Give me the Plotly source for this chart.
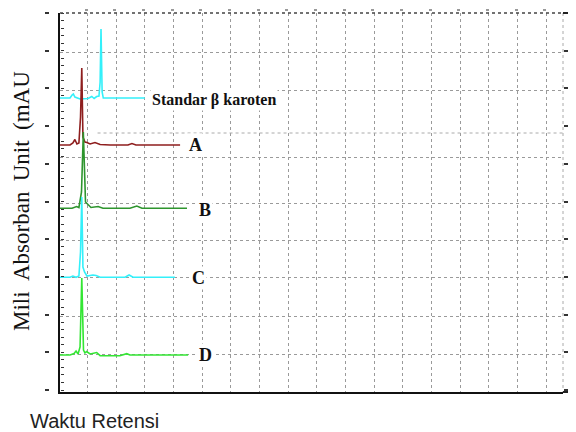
import plotly.graph_objects as go

# ---- data (retention time units, mAU offset units) ----
std_x = [0.04, 0.39, 0.46, 0.505, 0.56, 0.74, 1.02, 1.15, 1.23, 1.32, 1.40, 1.44, 1.471, 1.51, 1.55, 3.0]
std_y = [294, 294, 297, 298, 295, 293, 293.5, 295.5, 293.5, 295.5, 296, 310, 363, 300, 294, 294]

a_x = [-0.20, 0.39, 0.49, 0.56, 0.63, 0.70, 0.756, 0.80, 0.84, 0.91, 0.98, 1.09, 1.26, 1.44, 1.79, 2.41, 2.55, 2.69, 4.23]
a_y = [247, 247, 249, 252.5, 248, 249, 275, 324, 255, 250, 249.5, 248, 249.5, 247.5, 247, 247, 248.5, 247, 247]

b_x = [0.04, 0.46, 0.62, 0.70, 0.79, 0.854, 0.93, 1.02, 1.12, 1.37, 1.54, 2.48, 2.72, 2.90, 4.47]
b_y = [183.7, 183.7, 185.5, 184.5, 200, 260, 190, 187, 184.5, 185.5, 183.7, 183.7, 186, 183.7, 183.7]

c_x = [-0.13, 0.39, 0.49, 0.60, 0.70, 0.756, 0.80, 0.84, 0.895, 0.98, 1.19, 1.30, 1.44, 2.31, 2.45, 2.59, 4.05]
c_y = [114.7, 114.7, 116, 114.7, 116, 140, 195, 125, 120, 116, 117, 116.5, 114.7, 114.7, 117, 114.7, 114.7]

d_x = [-0.20, 0.39, 0.53, 0.60, 0.67, 0.74, 0.80, 0.86, 0.91, 0.965, 1.09, 1.32, 1.44, 2.13, 2.37, 2.48, 4.51]
d_y = [37, 37, 38.5, 41, 38, 45, 114, 42, 39, 40.5, 38, 39.5, 36.3, 36.3, 38.3, 37, 37]

series_names = ["Standar β karoten", "A", "B", "C", "D"]
series_colors = ["#33F0FA", "#8E1E1E", "#2E952E", "#33F0FA", "#33E633"]

label_x = [3.18, 4.47, 4.82, 4.58, 4.82]
label_y = [292, 247.5, 182, 114.5, 37]
label_sizes = [16, 18, 18, 18, 18]

grid_y = [340, 302, 235, 189, 152, 115, 76, 38]
outer_ticks = [379, 341.3, 303.6, 265.9, 228.2, 190.5, 152.8, 115.1, 77.4, 39.7, 2]

X_RANGE = [0.04, 17.59]
Y_RANGE = [0, 379]

# page body has an 8px margin: figure coordinates = screen coordinates - 8
OFF = 8
W, H = 576 - OFF, 432 - OFF


def px(xs):
    return min(1.0, max(0.0, (xs - OFF) / W))


def py(ys):
    return min(1.0, max(0.0, 1 - (ys - OFF) / H))


fig = go.Figure()
for xs, ys, name, col in zip([std_x, a_x, b_x, c_x, d_x], [std_y, a_y, b_y, c_y, d_y],
                             series_names, series_colors):
    fig.add_trace(go.Scatter(x=xs, y=ys, mode="lines", name=name,
                             line=dict(color=col, width=1.6), showlegend=False,
                             hoverinfo="skip"))

# empty traces to activate the extra decorative axes
fig.add_trace(go.Scatter(x=[], y=[], xaxis="x", yaxis="y2", showlegend=False))
fig.add_trace(go.Scatter(x=[], y=[], xaxis="x", yaxis="y3", showlegend=False))
fig.add_trace(go.Scatter(x=[], y=[], xaxis="x", yaxis="y4", showlegend=False))
fig.add_trace(go.Scatter(x=[], y=[], xaxis="x2", yaxis="y", showlegend=False))

for txt, lx, ly, sz in zip(series_names, label_x, label_y, label_sizes):
    fig.add_annotation(x=lx, y=ly, xref="x", yref="y", text="<b>" + txt + "</b>",
                       showarrow=False, xanchor="left", yanchor="middle",
                       bgcolor="white", borderpad=1,
                       font=dict(family="Liberation Serif", size=sz, color="#111"))

# y title
fig.add_annotation(x=px(21), y=py(201), xref="paper", yref="paper",
                   text="Mili \u2009Absorban \u2009Unit \u2009(mAU", textangle=-90,
                   showarrow=False, xanchor="center", yanchor="middle",
                   font=dict(family="Liberation Serif", size=23, color="#111"))
# x title
fig.add_annotation(x=px(28), y=py(421), xref="paper", yref="paper",
                   text="Waktu Retensi", showarrow=False, xanchor="left", yanchor="middle",
                   font=dict(family="Liberation Sans", size=20, color="#222"))

# top border (dotted) and right border, partial gridline
fig.add_shape(type="line", xref="paper", yref="paper", x0=px(60), x1=px(563),
              y0=py(13), y1=py(13), line=dict(color="#444", width=1.6, dash="dot"))
fig.add_shape(type="line", xref="paper", yref="paper", x0=px(563), x1=px(563),
              y0=py(13), y1=py(392), line=dict(color="#aaa", width=1, dash="dot"))
fig.add_shape(type="line", xref="x", yref="y", x0=1.35, x1=X_RANGE[1],
              y0=259, y1=259, line=dict(color="#aaa", width=1, dash="dot"))
fig.add_shape(type="line", xref="paper", yref="paper", x0=px(563), x1=1,
              y0=py(13), y1=py(13), line=dict(color="#222", width=2))
fig.add_shape(type="line", xref="paper", yref="paper", x0=px(563), x1=1,
              y0=py(392), y1=py(392), line=dict(color="#222", width=2))

dom_x = [px(60), px(563)]
dom_y = [py(392), py(13)]

fig.update_layout(
    width=W, height=H, margin=dict(l=0, r=0, t=0, b=0, autoexpand=False),
    paper_bgcolor="white", plot_bgcolor="white",
    xaxis=dict(domain=dom_x, range=X_RANGE, tick0=0, dtick=1, showgrid=True,
               gridcolor="#9a9a9a", griddash="dot", gridwidth=1,
               showticklabels=False, ticks="", showline=True, linecolor="#111",
               linewidth=2, zeroline=False),
    yaxis=dict(domain=dom_y, range=Y_RANGE, tickmode="array", tickvals=grid_y,
               showgrid=True, gridcolor="#9a9a9a", griddash="dot", gridwidth=1,
               showticklabels=False, ticks="", showline=True, linecolor="#111",
               linewidth=2, zeroline=False),
    yaxis2=dict(overlaying="y", anchor="free", position=px(49), side="left",
                range=Y_RANGE, tickmode="array", tickvals=outer_ticks,
                ticks="outside", ticklen=4, tickwidth=2, tickcolor="#333",
                showgrid=False, showline=False, showticklabels=False, zeroline=False),
    yaxis3=dict(overlaying="y", anchor="free", position=px(60), side="right",
                range=Y_RANGE, tick0=2, dtick=7.54,
                ticks="outside", ticklen=3, tickwidth=1, tickcolor="#333",
                showgrid=False, showline=False, showticklabels=False, zeroline=False),
    yaxis4=dict(overlaying="y", anchor="free", position=px(563), side="right",
                range=Y_RANGE, tickmode="array", tickvals=outer_ticks,
                ticks="outside", ticklen=6, tickwidth=2, tickcolor="#333",
                showgrid=False, showline=False, showticklabels=False, zeroline=False),
    xaxis2=dict(overlaying="x", anchor="free", position=1.0, side="bottom",
                range=X_RANGE, tick0=-0.05, dtick=1,
                ticks="outside", ticklen=2, tickwidth=3, tickcolor="#999",
                showgrid=False, showline=False, showticklabels=False, zeroline=False),
)

fig.write_html("out.html")
